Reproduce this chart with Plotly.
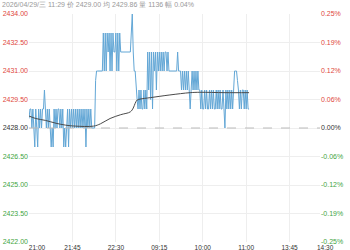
import plotly.graph_objects as go

# ---- data ----
base_price = 2428.0
price = [
    # night 21:00 ~
    2428.5, 2429, 2429, 2428, 2429, 2428, 2427, 2429, 2428, 2427,
    2429, 2428, 2429, 2428, 2429, 2429, 2430, 2429, 2428, 2429,
    2428, 2429, 2428, 2427, 2428, 2427, 2429, 2428, 2429, 2428,
    2429, 2429, 2428, 2429, 2428, 2429, 2427, 2428, 2427, 2428,
    2429, 2427, 2429, 2428, 2429, 2428, 2429, 2428, 2429, 2428,
    2429, 2428, 2429, 2428, 2429, 2428, 2429, 2428, 2429, 2427,
    2429, 2428, 2429, 2428, 2429, 2428, 2428, 2428,
    2428, 2430.5, 2431, 2431, 2431, 2431, 2431, 2431, 2431, 2433,
    2431, 2433, 2431, 2433, 2432, 2433, 2431, 2433, 2431, 2433,
    2432, 2432, 2433, 2431, 2433, 2431, 2433, 2432, 2432, 2432,
    2432, 2432, 2432, 2432, 2432, 2432, 2432, 2432,
    2433, 2434, 2432, 2431, 2431, 2430,
    2429.5, 2429, 2430, 2429, 2430, 2429, 2429, 2430, 2429, 2430, 2429,
    2432, 2430, 2432, 2429.5, 2432, 2429, 2432, 2431, 2432, 2430,
    2432, 2431, 2432, 2431, 2432, 2431, 2432, 2431, 2432, 2432,
    2431, 2432, 2431, 2431, 2431, 2431, 2431, 2431, 2431, 2431,
    2431, 2432, 2431, 2431, 2431, 2430,
    2431, 2430, 2431, 2430, 2431, 2430, 2431, 2430, 2429, 2430,
    2431, 2430, 2431, 2430, 2431, 2430, 2431, 2430, 2430,
    2429, 2430, 2429, 2429, 2430, 2429, 2430, 2429, 2429, 2430,
    2429, 2430, 2429, 2430, 2429, 2429, 2430, 2429, 2430, 2429,
    2430, 2429, 2429, 2430, 2429,
    2428,
    2430, 2429, 2430, 2429, 2430, 2429, 2430, 2429, 2430,
    2431, 2431, 2431, 2430.5,
    2430, 2429, 2430, 2429, 2430, 2430, 2429, 2430, 2429, 2430, 2429, 2429,
]
avg_x = [0, 7, 17, 28, 38, 48, 67, 74, 84, 95, 105, 108, 110, 112, 115,
         126, 146, 167, 177, 203, 228]
avg_price = [2428.63, 2428.5, 2428.4, 2428.25, 2428.15, 2428.1, 2428.1,
             2428.22, 2428.5, 2428.7, 2428.85, 2429.05, 2429.3, 2429.47,
             2429.52, 2429.6, 2429.74, 2429.86, 2429.88, 2429.86, 2429.86]

y_ticks = [2434.0, 2432.5, 2431.0, 2429.5, 2428.0, 2426.5, 2425.0, 2423.5, 2422.0]
x_tick_pos = [8.3, 45, 90, 135, 180, 225, 270]
x_tick_text = ["21:00", "21:45", "22:30", "09:15", "10:00", "11:00", "13:45"]
x_last_label = "14:30"
header = "2026/04/29/三 11:29 价 2429.00 均 2429.86 量 1136 幅 0.04%"

RED = "#e0473c"
GREEN = "#3fa53f"
DARK = "#333333"

def col(v):
    return RED if v > base_price else (GREEN if v < base_price else DARK)

left_text = [f"<span style='color:{col(v)}'>{v:.2f}</span>" for v in y_ticks]
pct_vals = [(v - base_price) / base_price * 100 for v in y_ticks]
right_text = [f"<span style='color:{col(v)}'>{p:.2f}%</span>" for v, p in zip(y_ticks, pct_vals)]

fig = go.Figure()
fig.add_trace(go.Scatter(x=list(range(len(price))), y=price, mode="lines",
                         line=dict(color="#63a7d6", width=1), hoverinfo="skip"))
fig.add_trace(go.Scatter(x=avg_x, y=avg_price, mode="lines", line_shape="spline",
                         line=dict(color="#4a4a4a", width=1), hoverinfo="skip"))
fig.add_trace(go.Scatter(x=[0], y=[0], yaxis="y2", mode="markers",
                         marker=dict(opacity=0), hoverinfo="skip"))

fig.add_shape(type="line", xref="paper", x0=0, x1=1, yref="y", y0=base_price, y1=base_price,
              line=dict(color="#bbbbbb", width=1, dash="dash"))

fig.add_annotation(text=header, xref="paper", yref="paper", x=0, y=1, xanchor="left",
                   yanchor="middle", xshift=-29, yshift=10, showarrow=False,
                   font=dict(size=7, color="#999999"))
fig.add_annotation(text=x_last_label, xref="paper", yref="paper", x=1, y=0, xanchor="center",
                   yanchor="top", xshift=5, yshift=0, showarrow=False,
                   font=dict(size=6.5, color=DARK))

fig.update_layout(
    width=350, height=250,
    margin=dict(l=29, r=30, t=14, b=8, autoexpand=False),
    paper_bgcolor="white", plot_bgcolor="white",
    showlegend=False,
    font=dict(family="Liberation Sans, Arial, sans-serif", size=7, color=DARK),
    xaxis=dict(range=[0, 301.5], tickmode="array", tickvals=x_tick_pos, ticktext=x_tick_text,
               showgrid=False, zeroline=False, showline=False, ticks="", automargin=False,
               tickfont=dict(size=6.5, color=DARK),
               minor=dict(tickmode="array", tickvals=[45, 90, 135, 180, 225, 270],
                          showgrid=True, gridcolor="#eeeeee", gridwidth=1, ticks="")),
    yaxis=dict(range=[2422, 2434], tickmode="array", tickvals=y_ticks, ticktext=left_text,
               showgrid=True, gridcolor="#eeeeee", zeroline=False, showline=False, ticks="",
               automargin=False, tickfont=dict(size=7)),
    yaxis2=dict(range=[(2422 - base_price) / base_price * 100, (2434 - base_price) / base_price * 100],
                overlaying="y", side="right", tickmode="array", tickvals=pct_vals,
                ticktext=right_text, showgrid=False, zeroline=False, showline=False, ticks="",
                automargin=False, tickfont=dict(size=7)),
)

fig.write_html("out.html")
